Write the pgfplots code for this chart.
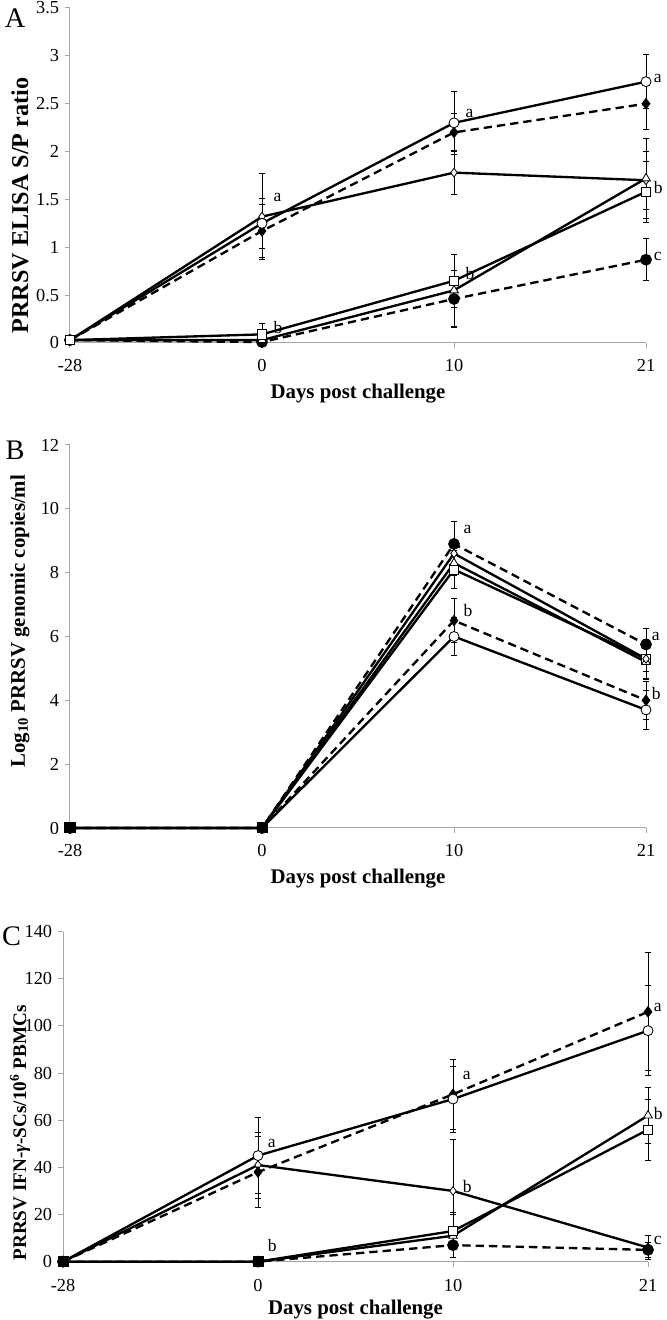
\documentclass[border=0pt]{standalone}
\usepackage{pgfplots}
\pgfplotsset{compat=1.18}
\usepackage{fontspec}
\setmainfont{Liberation Serif}

\tikzset{sig/.style={font=\fontsize{10.5}{11}\selectfont, anchor=west, inner sep=1pt}}
\pgfplotsset{
 panel/.style={scale only axis, width=345.6pt, axis lines*=left, xmin=0, xmax=3,
  xtick={0,1,2,3}, xticklabels={-28,0,10,21}, ymin=0, clip=false,
  axis line style={gray!70, line width=0.6pt}, tick style={gray!70, line width=0.6pt},
  tick align=outside, major tick length=3pt,
  ticklabel style={font=\fontsize{11}{12}\selectfont},
  xticklabel style={yshift=-3pt},
  /pgf/number format/assume math mode=true,
  xlabel style={font=\bfseries\fontsize{12.5}{13}\selectfont, yshift=-1pt},
  xlabel={Days post challenge},
  every axis plot/.append style={line width=1.4pt, black},
  error bars/y dir=both, error bars/y explicit,
  error bars/error bar style={line width=0.5pt, solid, black},
  error bars/error mark options={rotate=90, line width=0.5pt, mark size=2pt, black, solid}},
 ocirc/.style={solid, mark=*, mark size=3pt, mark options={solid, fill=white, line width=0.5pt}},
 fcirc/.style={dashed, dash pattern=on 5pt off 3pt, mark=*, mark size=2.8pt, mark options={solid, fill=black}},
 fdiam/.style={dashed, dash pattern=on 5pt off 3pt, mark=diamond*, mark size=2.4pt, mark options={solid, fill=black}},
 odiam/.style={solid, mark=diamond*, mark size=2.6pt, mark options={solid, fill=white, line width=0.5pt}},
 osq/.style={solid, mark=square*, mark size=2.8pt, mark options={solid, fill=white, line width=0.5pt}},
 otri/.style={solid, mark=triangle*, mark size=3pt, mark options={solid, fill=white, line width=0.5pt}},
}

\begin{document}
\begin{tikzpicture}
\useasboundingbox (0,0) rectangle (399.6pt,792pt);

\node[font=\fontsize{17}{18}\selectfont] at (9pt,781pt) {A};
\node[font=\fontsize{17}{18}\selectfont] at (9pt,522pt) {B};
\node[font=\fontsize{17}{18}\selectfont] at (7pt,230pt) {C};

% A: ELISA S/P ratio
\begin{axis}[panel, at={(42pt,586.2pt)}, anchor=origin, height=201pt,
  ymax=3.5, ytick={0,0.5,1,1.5,2,2.5,3,3.5},
  yticklabels={0,0.5,1,1.5,2,2.5,3,3.5},
  ylabel style={at={(axis description cs:-0.087,0.41)}, anchor=center, font=\bfseries\fontsize{14.5}{15}\selectfont},
  ylabel={PRRSV ELISA S/P ratio}]
 \addplot[odiam] coordinates {(0,0.03) +- (0,0.01) (1,1.32) +- (0,0.45) (2,1.78) +- (0,0.23) (3,1.70) +- (0,0.30)};
 \addplot[fdiam] coordinates {(0,0.03) +- (0,0.01) (1,1.17) +- (0,0.28) (2,2.20) +- (0,0.20) (3,2.50) +- (0,0.27)};
 \addplot[ocirc] coordinates {(0,0.03) +- (0,0.01) (1,1.25) +- (0,0.26) (2,2.30) +- (0,0.33) (3,2.73) +- (0,0.28)};
 \addplot[fcirc] coordinates {(0,0.03) +- (0,0.01) (1,0.01) +- (0,0.01) (2,0.46) +- (0,0.30) (3,0.87) +- (0,0.22)};
 \addplot[otri] coordinates {(0,0.03) +- (0,0.01) (1,0.03) +- (0,0.02) (2,0.55) +- (0,0.38) (3,1.72) +- (0,0.42)};
 \addplot[osq] coordinates {(0,0.03) +- (0,0.01) (1,0.09) +- (0,0.11) (2,0.65) +- (0,0.28) (3,1.58) +- (0,0.32)};
 \node[sig] at (axis cs:1.05,1.52) {a};
 \node[sig] at (axis cs:2.05,2.40) {a};
 \node[sig] at (axis cs:3.03,2.76) {a};
 \node[sig] at (axis cs:3.03,1.62) {b};
 \node[sig] at (axis cs:3.03,0.90) {c};
 \node[sig] at (axis cs:2.05,0.73) {b};
 \node[sig] at (axis cs:1.05,0.16) {b};
\end{axis}

% B: viremia
\begin{axis}[panel, at={(42pt,295.2pt)}, anchor=origin, height=229.8pt,
  ymax=12, ytick={0,2,...,12},
  ylabel style={at={(axis description cs:-0.087,0.54)}, anchor=center, font=\bfseries\fontsize{12.5}{13}\selectfont},
  ylabel={Log\textsubscript{10} PRRSV genomic copies/ml}]
 \addplot[ocirc] coordinates {(0,0) (1,0) (2,6.0) +- (0,0.6) (3,3.7) +- (0,0.6)};
 \addplot[fdiam] coordinates {(0,0) (1,0) (2,6.5) +- (0,0.7) (3,4.0) +- (0,0.6)};
 \addplot[osq] coordinates {(0,0) (1,0) (2,8.1) +- (0,0.6) (3,5.3) +- (0,0.6)};
 \addplot[otri] coordinates {(0,0) (1,0) (2,8.3) +- (0,0.4) (3,5.2) +- (0,0.55)};
 \addplot[odiam] coordinates {(0,0) (1,0) (2,8.6) +- (0,0.3) (3,5.3) +- (0,0.4)};
 \addplot[fcirc] coordinates {(0,0) (1,0) (2,8.9) +- (0,0.7) (3,5.75) +- (0,0.5)};
 \addplot[only marks, mark=square*, mark size=2.6pt, fill=black] coordinates {(0,0) (1,0)};
 \node[sig] at (axis cs:2.04,9.35) {a};
 \node[sig] at (axis cs:2.04,6.8) {b};
 \node[sig] at (axis cs:3.02,6.0) {a};
 \node[sig] at (axis cs:3.02,4.2) {b};
\end{axis}

% C: IFN-gamma SCs
\begin{axis}[panel, at={(37.8pt,35pt)}, anchor=origin, width=351pt, height=198pt,
  ymax=140, ytick={0,20,...,140},
  xticklabel style={yshift=-1pt},
  xlabel style={yshift=3pt},
  ylabel style={at={(axis description cs:-0.0735,0.39)}, anchor=center, font=\bfseries\fontsize{11.5}{12}\selectfont},
  ylabel={PRRSV IFN-\textit{γ}-SCs/10\textsuperscript{6} PBMCs}]
 \addplot[odiam] coordinates {(0,0) (1,41) +- (0,14) (2,30) +- (0,22) (3,6) +- (0,5)};
 \addplot[fdiam] coordinates {(0,0) (1,38) +- (0,15) (2,71) +- (0,15) (3,106) +- (0,25)};
 \addplot[ocirc] coordinates {(0,0) (1,45) +- (0,16) (2,69) +- (0,14) (3,98) +- (0,19)};
 \addplot[fcirc] coordinates {(0,0) (1,0) (2,7) +- (0,5) (3,5) +- (0,3)};
 \addplot[otri] coordinates {(0,0) (1,0) (2,11) +- (0,9) (3,62) +- (0,12)};
 \addplot[osq] coordinates {(0,0) (1,0) (2,13) +- (0,8) (3,56) +- (0,13)};
 \addplot[only marks, mark=square*, mark size=2.6pt, fill=black] coordinates {(0,0) (1,0)};
 \node[sig] at (axis cs:1.04,50) {a};
 \node[sig] at (axis cs:2.04,79) {a};
 \node[sig] at (axis cs:3.02,108) {a};
 \node[sig] at (axis cs:2.04,32) {b};
 \node[sig] at (axis cs:3.02,63) {b};
 \node[sig] at (axis cs:3.02,9) {c};
 \node[sig] at (axis cs:1.04,7) {b};
\end{axis}
\end{tikzpicture}
\end{document}
